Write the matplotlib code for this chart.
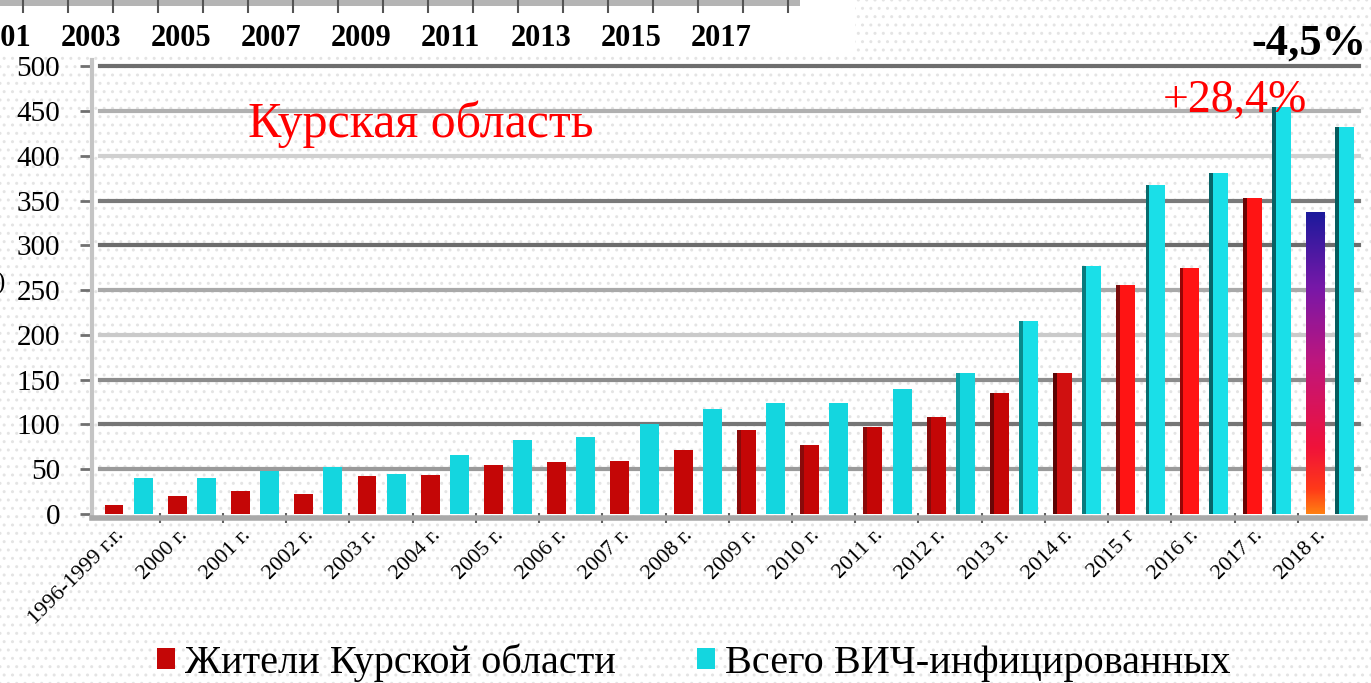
import numpy as np
import matplotlib
matplotlib.use("Agg")
import matplotlib.pyplot as plt
from matplotlib.patches import Rectangle, Patch
from matplotlib.colors import LinearSegmentedColormap

# ---- data -------------------------------------------------------------
categories = ["1996-1999 г.г.", "2000 г.", "2001 г.", "2002 г.", "2003 г.",
              "2004 г.", "2005 г.", "2006 г.", "2007 г.", "2008 г.",
              "2009 г.", "2010 г.", "2011 г.", "2012 г.", "2013 г.",
              "2014 г.", "2015 г", "2016 г.", "2017 г.", "2018 г."]
residents = [10, 20, 26, 22, 42, 44, 55, 58, 59, 72,
             94, 77, 97, 108, 135, 157, 256, 275, 353, 337]
total_hiv = [40, 40, 48, 53, 45, 66, 83, 86, 101, 117,
             124, 124, 140, 158, 216, 277, 367, 381, 455, 432]
y_ticks = list(range(0, 501, 50))
top_years = list(range(2001, 2019))
top_year_labels = [str(y) if y % 2 else "" for y in top_years]

series_names = ["Жители Курской области", "Всего ВИЧ-инфицированных"]

# ---- style ------------------------------------------------------------
W, H = 1371, 683
SERIF = ["Liberation Serif", "DejaVu Serif"]
RED = "#c40606"
CYAN = "#14d6df"
red_colors = [RED] * 15 + ["#d01010", "#ff1414", "#ff1414", "#ff1414"]
cyan_colors = [CYAN] * 14 + ["#1adfe8"] * 6
# darker left edge of the later bars (pseudo 3D look)
red_edge = [None] * 10 + ["#8a0a0a", "#8a0a0a", "#8a0a0a", "#8a0a0a",
                          "#6a0606", "#5a0404", "#7a0c0c", "#950606",
                          "#6a0404", None]
cyan_edge = [None] * 13 + ["#0e9a9e", "#0a8a8c", "#0a7a7c", "#086a6c",
                           "#086468", "#086064", "#065a5c"]
grid_colors = ["#9a9a9a", "#767676", "#8c8c8c", "#cacaca", "#a9a9a9",
               "#6c6c6c", "#7a7a7a", "#d0d0d0", "#b0b0b0", "#6e6e6e"]

plt.rcParams["font.family"] = SERIF

fig = plt.figure(figsize=(W / 100, H / 100), dpi=100)

# dotted slide background + white strip at the top
fig.patches.append(Rectangle((0, 0), 1, 1, transform=fig.transFigure,
                             facecolor="white", edgecolor="#e4e4e4",
                             hatch="..", lw=0, zorder=-10))
fig.patches.append(Rectangle((0, 1 - 55 / H), 855 / W, 55 / H,
                             transform=fig.transFigure, facecolor="white",
                             lw=0, zorder=-9))

# ---- main axes --------------------------------------------------------
ax = fig.add_axes([92 / W, 0.2422, 1273 / W, 0.6697])
ax.patch.set_alpha(0)

x = np.arange(len(categories))
bw = 0.30
red_bars = ax.bar(x - 0.22, residents, width=bw, color=red_colors, zorder=3)
ax.bar(x + 0.24, total_hiv, width=bw, color=cyan_colors, zorder=3)

edge_w = 0.06
for i in x:
    if red_edge[i]:
        ax.bar(x[i] - 0.22 - bw / 2 + edge_w / 2, residents[i], width=edge_w,
               color=red_edge[i], zorder=3.2)
    if cyan_edge[i]:
        ax.bar(x[i] + 0.24 - bw / 2 + edge_w / 2, total_hiv[i], width=edge_w,
               color=cyan_edge[i], zorder=3.2)

# gradient fill of the last resident bar
last = red_bars[-1]
bb = last.get_bbox()
grad_cmap = LinearSegmentedColormap.from_list(
    "grad", [(0.0, "#ff8012"), (0.08, "#ff3a18"), (0.22, "#f0123a"),
             (0.5, "#c0167c"), (0.75, "#7818a8"), (1.0, "#1c1a9c")])
im = ax.imshow(np.linspace(0, 1, 256).reshape(-1, 1), cmap=grad_cmap,
               origin="lower", aspect="auto", zorder=3.5,
               extent=[bb.x0, bb.x1, bb.y0, bb.y1])
im.set_clip_path(last)

for v, c in zip(y_ticks[1:], grid_colors):
    ax.axhline(v, xmin=0.006, xmax=0.995, color=c, lw=3, zorder=1)

ax.set_xlim(-0.568, 19.56)
ax.set_ylim(-4, 507)

for side in ("top", "right"):
    ax.spines[side].set_visible(False)
ax.spines["left"].set_color("#c4c4c4")
ax.spines["left"].set_linewidth(3)
ax.spines["bottom"].set_color("#a9a9a9")
ax.spines["bottom"].set_linewidth(4)

ax.set_yticks(y_ticks)
ax.set_yticklabels([str(v) for v in y_ticks])
ax.tick_params(axis="y", length=9, width=2, color="#707070", pad=14,
               labelsize=21)

ax.set_xticks(x)
ax.set_xticklabels(categories, rotation=45, ha="right", va="top")
ax.set_xticks(x[:-1] + 0.5, minor=True)
ax.tick_params(axis="x", which="major", length=0, pad=6, labelsize=16)
ax.tick_params(axis="x", which="minor", direction="inout", length=7,
               width=1.5, color="#606060")

# ---- texts ------------------------------------------------------------
fig.text(248 / W, 1 - 137 / H, "Курская область", color="red",
         fontsize=36, va="baseline", ha="left")
fig.text(1163 / W, 1 - 112 / H, "+28,4%", color="red",
         fontsize=33, va="baseline", ha="left")
fig.text(1366 / W, 1 - 55 / H, "-4,5%", color="black", fontsize=32,
         fontweight="bold", va="baseline", ha="right")
fig.text(0.0, 1 - 290 / H, ")", fontsize=18, ha="center", va="baseline")

# ---- legend -----------------------------------------------------------
handles = [Patch(facecolor=RED, edgecolor="none", label=series_names[0]),
           Patch(facecolor=CYAN, edgecolor="none", label=series_names[1])]
fig.legend(handles=handles, loc="center", bbox_to_anchor=(0.506, 0.03),
           ncol=2, frameon=False, fontsize=29, handlelength=0.45,
           handleheight=0.45, handletextpad=0.25, columnspacing=2.0,
           borderpad=0)

# ---- cropped timeline strip at the top --------------------------------
ax_top = fig.add_axes([0, 1 - 6 / H, 800 / W, 6 / H])
ax_top.set_facecolor("#b4b4b4")
ax_top.set_xlim(2000.98, 2018.76)
ax_top.set_yticks([])
for s in ax_top.spines.values():
    s.set_visible(False)
ax_top.set_xticks(top_years)
ax_top.set_xticklabels(top_year_labels)
ax_top.set_xticks(np.array(top_years) + 0.5, minor=True)
ax_top.tick_params(axis="x", which="major", length=0, pad=13, labelsize=22)
ax_top.tick_params(axis="x", which="minor", direction="inout", length=10,
                   width=1.5, color="#555555")
for lbl in ax_top.get_xticklabels():
    lbl.set_fontweight("bold")

fig.savefig("out.png", dpi=100)
